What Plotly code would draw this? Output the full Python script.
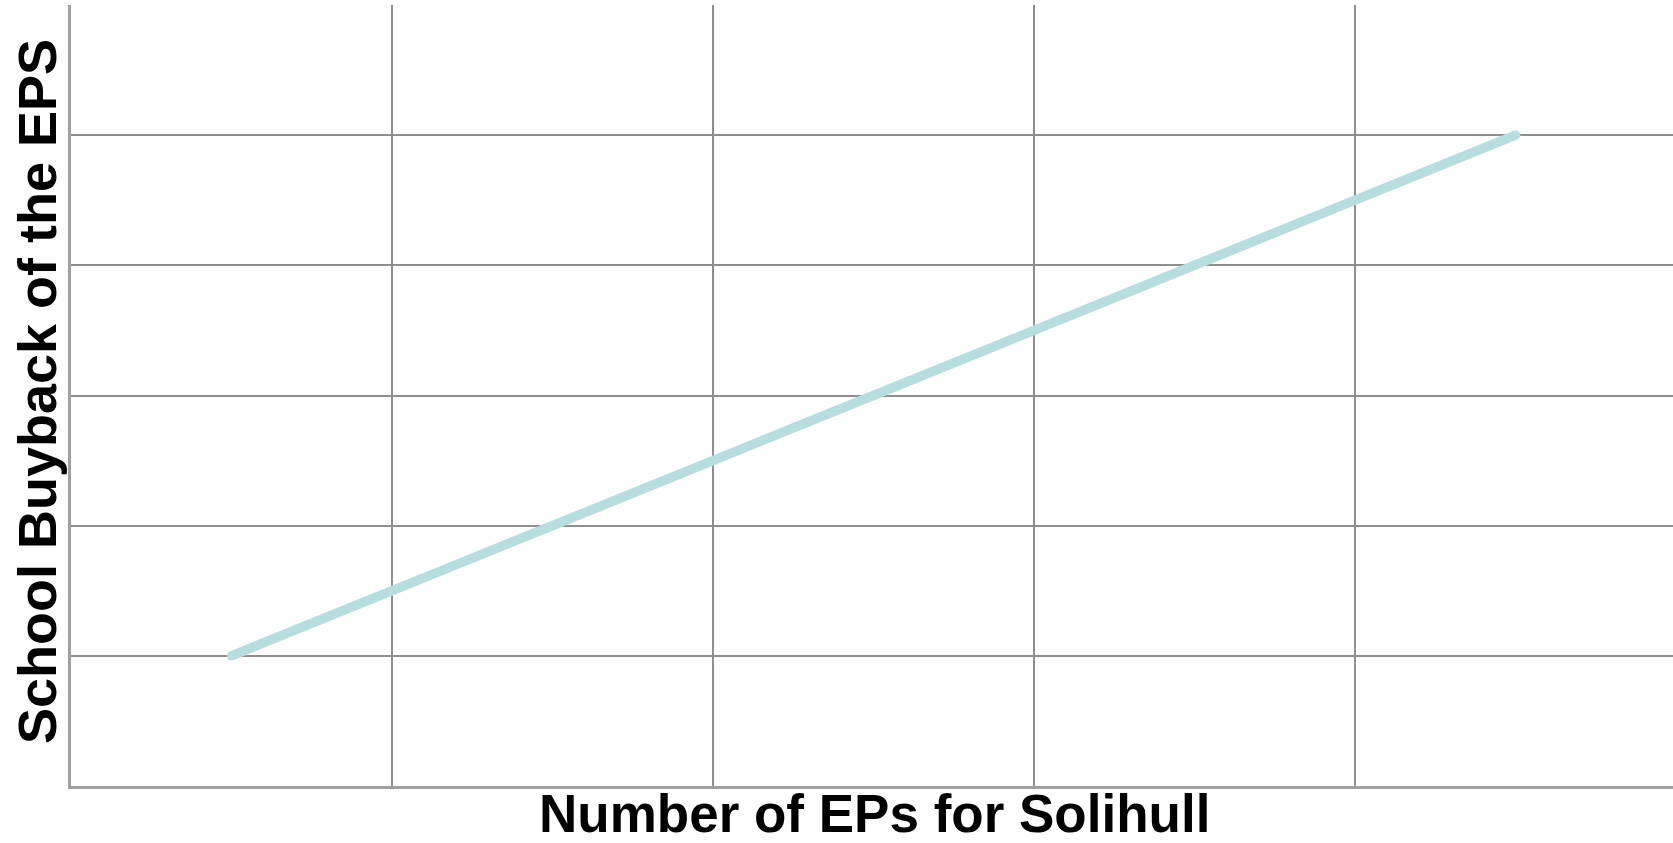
import plotly.graph_objects as go

# Data
eps_count = [0.5, 1.5, 2.5, 3.5, 4.5]
buyback = [1, 2, 3, 4, 5]

x_title = "Number of EPs for Solihull"
y_title = "School Buyback of the EPS"

W, H = 1673, 843
ML, MR, MT, MB = 71, 0, 5, 57

fig = go.Figure()
fig.add_trace(go.Scatter(
    x=eps_count, y=buyback, mode="lines+markers",
    line=dict(color="#b7dde0", width=9.5),
    marker=dict(color="#b7dde0", size=9.5, line=dict(width=0)),
    showlegend=False, hoverinfo="skip",
))

axis_common = dict(
    showticklabels=False, ticks="", zeroline=False,
    showgrid=True, gridcolor="#8f8f8f", gridwidth=1.5,
    showline=True, linecolor="#a0a0a0", linewidth=2.5,
)
pw = W - ML - MR
ph = H - MT - MB
fig.update_xaxes(range=[0, pw / 321.0], dtick=1, tick0=0, **axis_common)
fig.update_yaxes(range=[0, 6], dtick=1, tick0=0, **axis_common)

fig.add_annotation(
    text=x_title, xref="paper", yref="paper",
    x=(874 - ML) / pw, y=-(814 - (H - MB)) / ph,
    xanchor="center", yanchor="middle", showarrow=False,
    font=dict(family="Liberation Sans", size=53, color="black", weight="bold"),
)
fig.add_annotation(
    text=y_title, xref="paper", yref="paper",
    x=(37 - ML) / pw, y=((H - MB) - 392) / ph,
    xanchor="center", yanchor="middle", showarrow=False, textangle=-90,
    font=dict(family="Liberation Sans", size=54, color="black", weight="bold"),
)

fig.update_layout(
    width=W, height=H,
    margin=dict(l=ML, r=MR, t=MT, b=MB),
    plot_bgcolor="white", paper_bgcolor="white",
)

fig.write_html(
    "out.html",
    config={"displayModeBar": False},
    post_script="document.body.style.margin='0';document.body.style.overflow='hidden';",
)
